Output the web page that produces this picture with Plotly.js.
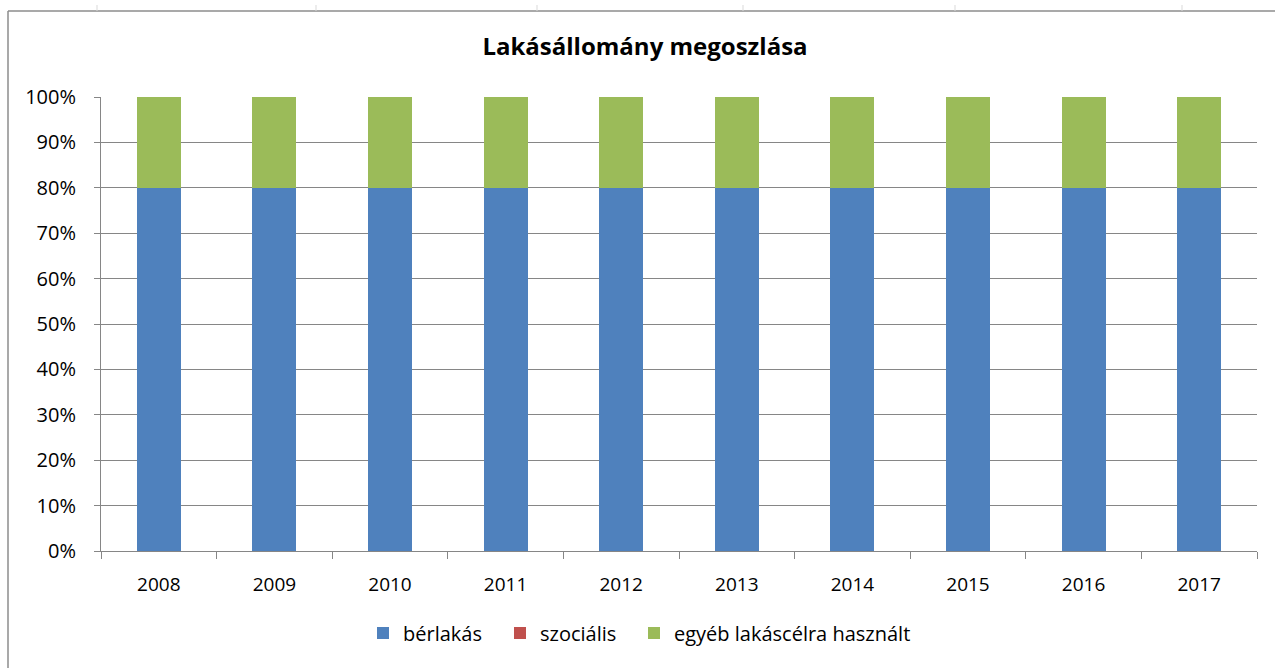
<!DOCTYPE html>
<html><head><meta charset="utf-8">
<script src="https://cdn.plot.ly/plotly-3.0.1.min.js"></script>
<style>html,body{margin:0;padding:0;background:#fff}#chart{width:1275px;height:668px}</style>
</head><body><div id="chart"></div>
<script>
const years = ['2008','2009','2010','2011','2012','2013','2014','2015','2016','2017'];
const berlakas = [80,80,80,80,80,80,80,80,80,80];
const szocialis = [0,0,0,0,0,0,0,0,0,0];
const egyeb = [20,20,20,20,20,20,20,20,20,20];
const seriesNames = ['bérlakás','szociális','egyéb lakáscélra használt'];
const seriesColors = ['#4F81BD','#C0504D','#9BBB59'];
const seriesData = [berlakas, szocialis, egyeb];
const yTickValues = [0,10,20,30,40,50,60,70,80,90,100];
const yTickLabels = yTickValues.map(v => v + '%');

const legendIds = ['legend','legend2','legend3'];
const traces = seriesData.map((d,i)=>({
  type:'bar', x:years, y:d, name:seriesNames[i],
  marker:{color:seriesColors[i], line:{width:0}},
  width:0.38, legend:legendIds[i]
}));

const font = "'Open Sans', sans-serif";
const pxX = p => (p-101)/1156;
const pxY = p => (551-p)/454;
const topTicks = [97,316,537,743,955,1182].map(x=>({type:'line', xref:'paper', yref:'paper',
  x0:pxX(x), x1:pxX(x), y0:pxY(5), y1:pxY(11), line:{color:'#d9d9d9', width:1}}));

const legendStarts = [363, 500, 634];
const mkLegend = x => ({orientation:'h', x:pxX(x), xanchor:'left', y:pxY(633), yanchor:'middle',
  font:{family:font, size:20, color:'#000'}, itemwidth:30, bgcolor:'rgba(0,0,0,0)'});

const layout = {
  width:1275, height:668,
  paper_bgcolor:'#fff', plot_bgcolor:'#fff',
  margin:{l:101, r:18, t:97, b:117, pad:0},
  barmode:'stack',
  title:{text:'<b>Lakásállomány megoszlása</b>', x:645/1275, xanchor:'center', xref:'container', y:1-47/668, yanchor:'middle', font:{family:font, size:24, color:'#000'}},
  xaxis:{type:'category', showgrid:false, showline:true, linecolor:'#868686', linewidth:1,
    ticks:'outside', tickson:'boundaries', ticklen:7, tickcolor:'#868686',
    tickfont:{family:font, size:19, color:'#000'}, ticklabelstandoff:16},
  yaxis:{range:[0,100], tickmode:'array', tickvals:yTickValues, ticktext:yTickLabels,
    showgrid:true, gridcolor:'#868686', gridwidth:1, zeroline:false,
    showline:true, linecolor:'#868686', linewidth:1, ticks:'outside', ticklen:6, tickcolor:'#868686',
    tickfont:{family:font, size:20, color:'#000'}, ticklabelstandoff:14},
  showlegend:true,
  legend:mkLegend(legendStarts[0]),
  legend2:mkLegend(legendStarts[1]),
  legend3:mkLegend(legendStarts[2]),
  shapes:[
    {type:'line', xref:'paper', yref:'paper', x0:pxX(8), x1:pxX(1280), y0:pxY(11), y1:pxY(11), line:{color:'#8c8c8c', width:1.5}},
    {type:'line', xref:'paper', yref:'paper', x0:pxX(8), x1:pxX(8), y0:pxY(11), y1:pxY(672), line:{color:'#8c8c8c', width:1.5}}
  ].concat(topTicks)
};
Plotly.newPlot('chart', traces, layout, {displayModeBar:false, staticPlot:true});
</script></body></html>
